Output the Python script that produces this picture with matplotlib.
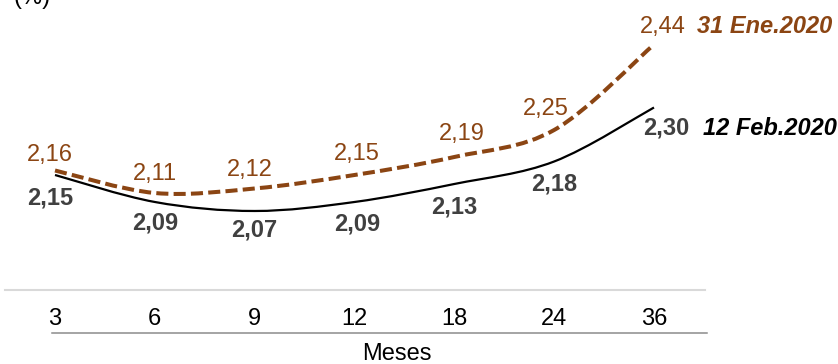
import matplotlib.pyplot as plt
import numpy as np
from matplotlib.path import Path
from matplotlib.patches import PathPatch
from matplotlib.lines import Line2D
import matplotlib.transforms as mtransforms

plt.rcParams['font.family'] = ['Liberation Sans', 'DejaVu Sans']

# ----- data -----
meses = ["3", "6", "9", "12", "18", "24", "36"]
ene_2020 = [2.16, 2.11, 2.12, 2.15, 2.19, 2.25, 2.44]   # 31 Ene.2020
feb_2020 = [2.15, 2.09, 2.07, 2.09, 2.13, 2.18, 2.30]   # 12 Feb.2020
serie_ene = "31 Ene.2020"
serie_feb = "12 Feb.2020"

BROWN = "#8B4513"
GRAY_LBL = "#404040"

# label nudges in pixels (dx, dy), layout only
off_ene = [(-5, 15), (0, 19), (-5, 18), (2, 21), (7, 23), (-8, 21), (9, 18)]
off_feb = [(-5, -23), (0, -21), (0, -19), (3, -22), (0, -23), (0, -23), (12, -21)]


def smooth_path(xs, ys):
    # Catmull-Rom style bezier, like a spreadsheet "smoothed line"
    pts = np.column_stack([xs, ys]).astype(float)
    ext = np.vstack([pts[0], pts, pts[-1]])
    verts = [pts[0]]
    codes = [Path.MOVETO]
    for i in range(1, len(ext) - 2):
        p0, p1, p2, p3 = ext[i - 1], ext[i], ext[i + 1], ext[i + 2]
        c1 = p1 + (p2 - p0) / 6.0
        c2 = p2 - (p3 - p1) / 6.0
        verts += [c1, c2, p2]
        codes += [Path.CURVE4] * 3
    return Path(verts, codes)


fig = plt.figure(figsize=(8.38, 3.64), dpi=100)
ax = fig.add_axes([5 / 838, 1 - 290 / 364, 700 / 838, 290 / 364])
ax.set_xlim(-0.501, 6.511)
ax.set_ylim(1.8944, 2.5389)

x = np.arange(len(meses))

p_ene = PathPatch(smooth_path(x, ene_2020), facecolor="none", edgecolor=BROWN,
                  lw=2.9, linestyle=(0, (3.0, 1.3)), capstyle="butt")
p_feb = PathPatch(smooth_path(x, feb_2020), facecolor="none", edgecolor="black",
                  lw=1.6)
ax.add_patch(p_ene)
ax.add_patch(p_feb)

for i, v in enumerate(ene_2020):
    ax.annotate(f"{v:.2f}".replace(".", ","), (x[i], v), xytext=off_ene[i],
                textcoords="offset pixels", ha="center", va="center",
                fontsize=17, color=BROWN, annotation_clip=False)
for i, v in enumerate(feb_2020):
    ax.annotate(f"{v:.2f}".replace(".", ","), (x[i], v), xytext=off_feb[i],
                textcoords="offset pixels", ha="center", va="center",
                fontsize=17, color=GRAY_LBL, fontweight="bold",
                annotation_clip=False)

# series names next to the last point
ax.annotate(serie_ene, (x[-1], ene_2020[-1]), xytext=(43, 18),
            textcoords="offset pixels", ha="left", va="center", fontsize=17,
            color=BROWN, fontweight="bold", fontstyle="italic",
            annotation_clip=False)
ax.annotate(serie_feb, (x[-1], feb_2020[-1]), xytext=(49, -21),
            textcoords="offset pixels", ha="left", va="center", fontsize=17,
            color="black", fontweight="bold", fontstyle="italic",
            annotation_clip=False)

# axes styling
for s in ["top", "left", "right"]:
    ax.spines[s].set_visible(False)
ax.spines["bottom"].set_color("#d9d9d9")
ax.spines["bottom"].set_linewidth(1.5)
ax.set_yticks([])
ax.set_xticks([])

trans = mtransforms.blended_transform_factory(ax.transData, ax.transAxes)
for i, m in enumerate(meses):
    ax.annotate(m, (x[i], 0), xycoords=trans, xytext=(0, -29),
                textcoords="offset pixels", ha="center", va="center",
                fontsize=17, color="black", annotation_clip=False)
ax.annotate("Meses", (3.42, 0), xycoords=trans, xytext=(0, -64),
            textcoords="offset pixels", ha="center", va="center",
            fontsize=17, color="black", annotation_clip=False)

fig.text(32 / 838, 1 + 2 / 364, "(%)", ha="center", va="center", fontsize=17)
fig.add_artist(Line2D([52 / 838, 707 / 838], [1 - 333 / 364] * 2,
                      transform=fig.transFigure, color="#8c8c8c", lw=1.1))

fig.savefig("out.png", dpi=100)
